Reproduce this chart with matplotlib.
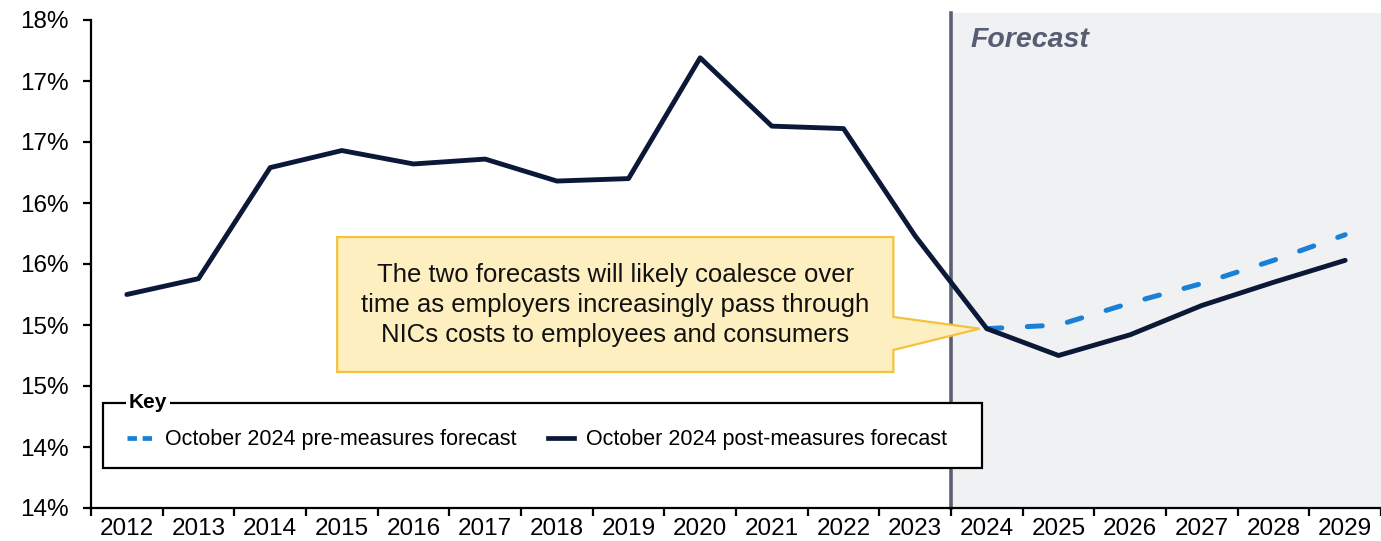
import numpy as np
import matplotlib
matplotlib.use("Agg")
import matplotlib.pyplot as plt
from matplotlib.patches import Polygon, Rectangle
from matplotlib.lines import Line2D

plt.rcParams['font.family'] = ['Liberation Sans', 'DejaVu Sans']

years = [2012, 2013, 2014, 2015, 2016, 2017, 2018, 2019, 2020,
         2021, 2022, 2023, 2024, 2025, 2026, 2027, 2028, 2029]
post_measures = [15.75, 15.88, 16.79, 16.93, 16.82, 16.86, 16.68, 16.70, 17.69,
                 17.13, 17.11, 16.23, 15.47, 15.25, 15.42, 15.66, 15.85, 16.03]
pre_years = [2024, 2025, 2026, 2027, 2028, 2029]
pre_measures = [15.47, 15.50, 15.68, 15.84, 16.03, 16.24]

ytick_vals = [14.0, 14.5, 15.0, 15.5, 16.0, 16.5, 17.0, 17.5, 18.0]
ytick_labels = ['14%', '14%', '15%', '15%', '16%', '16%', '17%', '17%', '18%']

forecast_start = 2023.5
navy = '#0b1838'
blue = '#1a80d6'

fig = plt.figure(figsize=(13.81, 5.41), dpi=100)
ax = fig.add_axes([91 / 1381, 33 / 541, 1 - 91 / 1381, 488 / 541])

ax.set_xlim(2011.5, 2029.44)
ax.set_ylim(14, 18)

# forecast shading and divider
ax.axvspan(forecast_start, 2030, ymin=0, ymax=1.015, color='#f0f1f3', zorder=0, clip_on=False, lw=0)
ax.axvline(forecast_start, ymin=0, ymax=1.015, color='#5b6075', lw=2.6, zorder=1, clip_on=False)
ax.text(2023.77, 17.835, 'Forecast', fontsize=20.5, fontweight='bold', style='italic',
        color='#575d72', va='center', ha='left')

ax.plot(pre_years, pre_measures, color=blue, lw=3.6, dashes=(3.0, 5.1),
        dash_capstyle='round', zorder=3)
ax.plot(years, post_measures, color=navy, lw=3.5, solid_capstyle='round',
        solid_joinstyle='round', zorder=4)

# callout
tip = (2023.9, post_measures[years.index(2024)])
x0, x1 = 2014.935, 2022.696
yb, yt = 15.115, 16.221
callout = Polygon([(x0, yb), (x0, yt), (x1, yt), (x1, 15.566), tip, (x1, 15.295), (x1, yb)],
                  closed=True, facecolor='#fdefbf', edgecolor='#f4c23c', lw=1.6, zorder=5)
ax.add_patch(callout)
ax.text((x0 + x1) / 2, (yb + yt) / 2 - 0.005,
        'The two forecasts will likely coalesce over\n'
        'time as employers increasingly pass through\n'
        'NICs costs to employees and consumers',
        ha='center', va='center', fontsize=18.5, linespacing=1.32, color='#111111', zorder=6)

# key box (white, sits over the forecast divider)
ax.add_patch(Rectangle((2011.667, 14.328), 12.27, 0.533, facecolor='white',
                       edgecolor='black', lw=1.6, zorder=6, clip_on=False))
ax.text(2012.03, 14.861, 'Key', fontsize=15, fontweight='bold', ha='left', va='center',
        zorder=7, bbox=dict(facecolor='white', edgecolor='none', pad=2))
handles = [Line2D([], [], color=blue, lw=3.4, dashes=(2.0, 1.2)),
           Line2D([], [], color=navy, lw=3.4)]
leg = ax.legend(handles, ['October 2024 pre-measures forecast', 'October 2024 post-measures forecast'],
                loc='center left', bbox_to_anchor=(2012.0, 14.56), bbox_transform=ax.transData,
                ncol=2, frameon=False, fontsize=15.5, handlelength=1.2, handletextpad=0.55,
                columnspacing=1.5, borderaxespad=0, borderpad=0)
leg.set_zorder(8)

# axes styling
for side in ['top', 'right']:
    ax.spines[side].set_visible(False)
ax.spines['left'].set_linewidth(1.6)
ax.spines['bottom'].set_linewidth(1.6)

ax.set_yticks(ytick_vals)
ax.set_yticklabels(ytick_labels)
ax.tick_params(axis='y', length=6, width=1.6, labelsize=17.5, pad=10)

ax.set_xticks(np.arange(2011.5, 2029.6, 1.0))
ax.set_xticklabels([])
ax.tick_params(axis='x', which='major', length=6, width=1.6)
ax.set_xticks(years, minor=True)
ax.set_xticklabels([str(y) for y in years], minor=True)
ax.tick_params(axis='x', which='minor', length=0, labelsize=17.5, pad=7)

fig.savefig('out.png', dpi=100)
